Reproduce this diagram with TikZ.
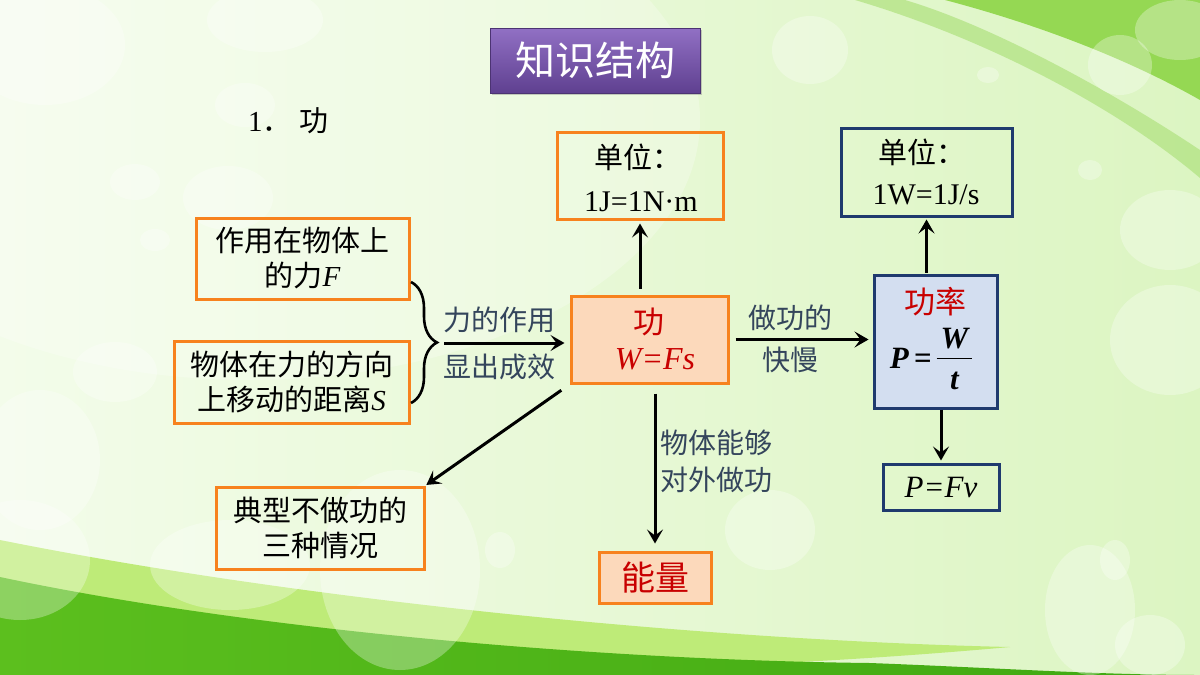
\documentclass[tikz,border=0pt]{standalone}
\usepackage{fontspec}
\setmainfont{Liberation Serif}
\newfontfamily\cjk{Noto Sans CJK SC}
\usetikzlibrary{arrows.meta,decorations.pathreplacing,calc,shadows}
\definecolor{orangeB}{HTML}{F7821E}
\definecolor{peach}{HTML}{FCD9BB}
\definecolor{darkred}{HTML}{C80000}
\definecolor{navy}{HTML}{1F3A6E}
\definecolor{lightblue}{HTML}{D3DEF0}
\definecolor{lblgray}{HTML}{34455C}
\definecolor{bgA}{HTML}{F3FCEA}
\definecolor{bgB}{HTML}{DCF5C2}
\definecolor{limeA}{HTML}{BEEB78}
\definecolor{greenA}{HTML}{5CBF1E}
\definecolor{greenB}{HTML}{3FA812}
\definecolor{greenTR}{HTML}{95D853}
\definecolor{purpA}{HTML}{9170C4}
\definecolor{purpB}{HTML}{5F4090}
\tikzset{
  obox/.style={draw=orangeB, line width=3pt, inner sep=0pt, align=center},
  nbox/.style={draw=navy, line width=3pt, inner sep=0pt, align=center},
  zh/.style={font=\cjk\fontsize{29}{35}\selectfont},
  lbl/.style={font=\cjk\fontsize{28}{35}\selectfont, text=lblgray, inner sep=0pt},
  arr/.style={line width=3pt, -{Stealth[length=14pt,width=16pt,inset=6pt]}},
  bubble/.style={fill=white, opacity=0.3},
}
\begin{document}
\begin{tikzpicture}[x=1pt,y=-1pt]
\useasboundingbox (0,0) rectangle (1200,675);
% background
\shade[left color=bgA, right color=bgB] (0,0) rectangle (1200,675);
\fill[white, opacity=0.25] (250,120) ellipse (450 and 260);
% top-right swoosh
\fill[greenTR!70!white, opacity=0.8] (855,0) .. controls (990,40) and (1120,110) .. (1200,178) -- (1200,150) .. controls (1110,90) and (990,25) .. (905,0) -- cycle;
\fill[greenTR] (945,0) .. controls (1040,25) and (1130,60) .. (1200,100) -- (1200,0) -- cycle;
% bottom swoosh
\fill[limeA] (0,540) .. controls (300,600) and (700,640) .. (1010,647) .. controls (700,675) and (400,675) .. (0,675) -- cycle;
\shade[left color=greenA, right color=greenB] (0,577) .. controls (250,630) and (600,660) .. (870,663) .. controls (1000,668) and (1100,675) .. (1200,675) -- (0,675) -- cycle;
% bubbles
\fill[bubble] (45,45) ellipse (80 and 60);
\fill[bubble] (265,20) ellipse (58 and 32);
\fill[bubble] (245,105) ellipse (30 and 22);
\fill[bubble] (135,182) ellipse (25 and 18);
\fill[bubble] (228,198) ellipse (45 and 32);
\fill[bubble] (155,240) ellipse (15 and 11);
\fill[bubble] (115,372) ellipse (42 and 30);
\fill[bubble] (40,460) ellipse (60 and 70);
\fill[bubble] (20,560) ellipse (70 and 60);
\fill[bubble] (230,565) ellipse (80 and 45);
\fill[bubble] (400,570) ellipse (80 and 100);
\fill[bubble] (500,550) ellipse (15 and 18);
\fill[bubble] (810,50) ellipse (38 and 34);
\fill[bubble] (988,75) ellipse (11 and 8);
\fill[bubble] (1120,65) ellipse (32 and 30);
\fill[bubble] (1180,30) ellipse (45 and 30);
\fill[bubble] (1090,170) ellipse (12 and 10);
\fill[bubble] (1170,230) ellipse (50 and 40);
\fill[bubble] (1170,340) ellipse (60 and 55);
\fill[bubble] (1090,610) ellipse (45 and 65);
\fill[bubble] (1115,560) ellipse (15 and 20);
\fill[bubble] (1150,645) ellipse (35 and 30);
\fill[bubble] (770,530) ellipse (45 and 40);
% title
\node[minimum width=210pt, minimum height=65pt, top color=purpA, bottom color=purpB, draw=purpB!80!black, line width=0.8pt, drop shadow={shadow xshift=2pt, shadow yshift=-2pt, opacity=0.4}, text=white, font=\cjk\fontsize{40}{44}\selectfont] (title) at (595,60.5) {知识结构};
\node[anchor=west, font=\cjk\fontsize{29}{32}\selectfont, inner sep=0pt] (sec) at (248,121) {{\rmfamily 1}．\hspace{8pt}功};
% left boxes
\node[obox, zh, minimum width=213pt, minimum height=81pt] (A) at (302.5,258.5) {作用在物体上\\的力{\rmfamily\itshape F}};
\node[obox, zh, minimum width=235pt, minimum height=82pt] (B) at (291.5,382) {物体在力的方向\\上移动的距离{\rmfamily\itshape S}};
\coordinate (b1) at (411,282);
\coordinate (b2) at (411,403);
\draw[line width=2.6pt, decorate, decoration={brace, amplitude=26pt, aspect=0.5}] (b1) -- (b2);
% central
\node[obox, fill=peach, minimum width=157pt, minimum height=87pt] (G) at (649.5,339.5) {};
\node[font=\cjk\fontsize{31}{34}\selectfont, text=darkred, inner sep=0pt] (Gt) at (649,322) {功};
\node[font=\fontsize{32}{34}\selectfont\itshape, text=darkred, inner sep=0pt] (Gf) at (655,359) {W=Fs};
% unit box 1
\node[obox, minimum width=166pt, minimum height=87pt] (U1) at (640,175.5) {};
\node[zh, inner sep=0pt] (U1a) at (638,157) {单位：};
\node[font=\fontsize{30}{34}\selectfont, inner sep=0pt] (U1b) at (641,202) {1J=1N·m};
% arrow into center
\coordinate (bt) at (444,343);
\draw[arr, shorten >=5pt] (bt) -- (bt -| G.west);
\node[lbl] (l1) at (499,320) {力的作用};
\node[lbl] (l2) at (499,367) {显出成效};
% up arrow
\draw[arr, shorten <=6pt, shorten >=3pt] (G.north -| U1.south) -- (U1.south);
% power box
\node[nbox, fill=lightblue, minimum width=123pt, minimum height=133pt] (Pw) at (935.5,341.5) {};
\node[font=\cjk\fontsize{31}{34}\selectfont, text=darkred, inner sep=0pt] (Pwt) at (935,302) {功率};
\node[font=\fontsize{31}{34}\selectfont\bfseries\itshape, inner sep=0pt] (Pwf) at (931,362) {P\,=\,\begin{tabular}{@{\hspace{4pt}}c@{\hspace{4pt}}}W\\[-1pt]\noalign{\hrule height 1.2pt}\rule{0pt}{30pt}t\end{tabular}};
\draw[arr, shorten <=6pt, shorten >=4pt] (G.east) -- (G.east -| Pw.west);
\node[lbl] (l3) at (790,318) {做功的};
\node[lbl] (l4) at (790,360) {快慢};
% unit box 2
\node[nbox, minimum width=171pt, minimum height=88pt] (U2) at (926.5,172) {};
\node[zh, inner sep=0pt] (U2a) at (922,152) {单位：};
\node[font=\fontsize{30}{34}\selectfont, inner sep=0pt] (U2b) at (926,195) {1W=1J/s};
\draw[arr, shorten <=1pt, shorten >=2pt] (Pw.north -| U2.south) -- (U2.south);
% P=Fv
\node[nbox, minimum width=116pt, minimum height=46pt, font=\fontsize{31}{34}\selectfont\itshape] (PFv) at (941,487) {P=Fv};
\draw[arr, shorten >=2pt] (Pw.south -| PFv.north) -- (PFv.north);
% typical box
\node[obox, zh, minimum width=208pt, minimum height=82pt] (T) at (320,528) {典型不做功的\\三种情况};
\draw[arr, shorten <=10pt, shorten >=1pt] (G.south west) -- (T.north east);
% energy
\node[obox, fill=peach, minimum width=112pt, minimum height=51pt, font=\cjk\fontsize{34}{36}\selectfont, text=darkred] (E) at (655,577.5) {能量};
\draw[arr, shorten <=9pt, shorten >=7pt] (G.south -| E.north) -- (E.north);
\node[lbl, align=left, anchor=west, font=\cjk\fontsize{28}{37}\selectfont] (l5) at (660,461) {物体能够\\对外做功};
\end{tikzpicture}
\end{document}
